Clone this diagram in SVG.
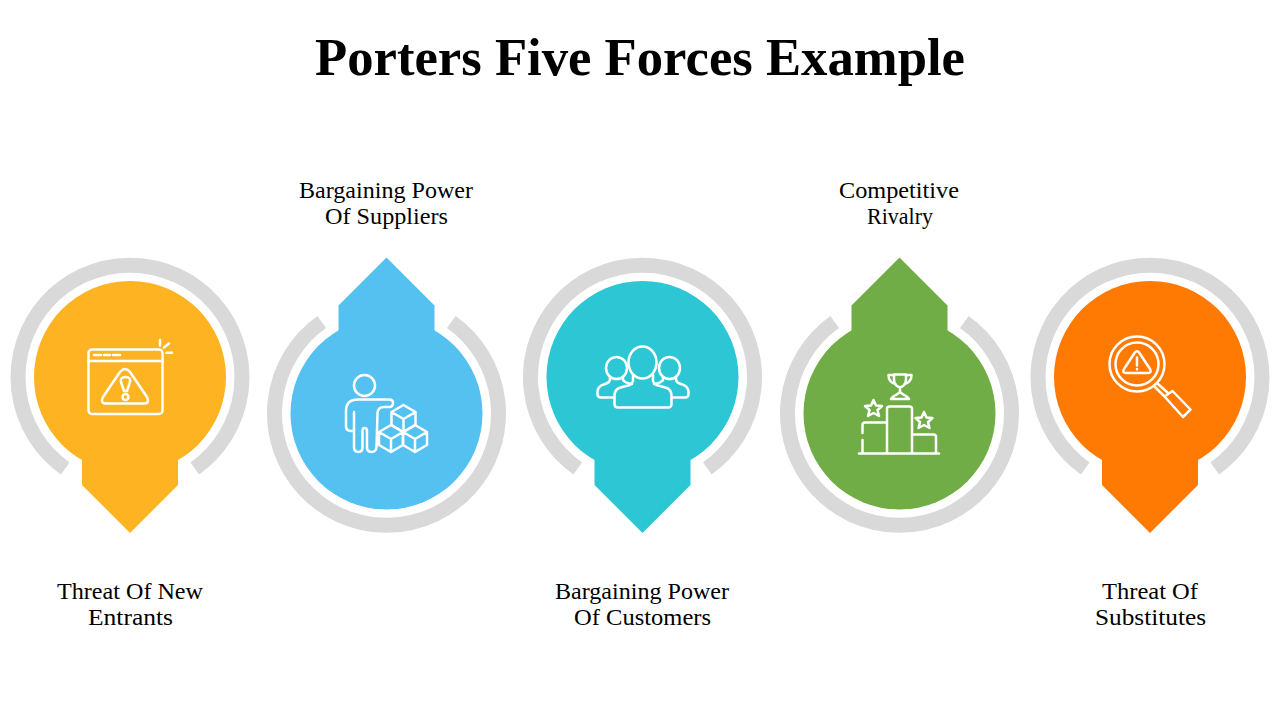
<svg xmlns="http://www.w3.org/2000/svg" xmlns:xlink="http://www.w3.org/1999/xlink" width="1280" height="720" viewBox="0 0 1280 720">
<style>
.title{font-family:"Liberation Serif",serif;font-weight:700;font-size:52px;fill:#000;text-anchor:middle}
.lbl{font-family:"Liberation Serif",serif;font-size:23px;fill:#000;text-anchor:middle}
.ring{fill:none;stroke:#d9d9d9;stroke-width:15}
.ic{fill:none;stroke:#fff;stroke-width:2.5;stroke-linecap:round;stroke-linejoin:round}
</style>
<defs>
<g id="pin"><circle r="96"/><polygon points="-48,60 48,60 48,108 0,156 -48,108"/></g>
<path id="arc" class="ring" d="M-64.800,91.500 A112,112 0 1 1 64.800,91.500"/>
<g id="cube"><path d="M0,0 L12,7 V20 L0,27 L-12,20 V7 Z M-12,7 L0,14 L12,7 M0,14 V27"/></g>
</defs>
<rect width="1280" height="720" fill="#fff"/>
<text class="title" x="640" y="75" textLength="650" lengthAdjust="spacingAndGlyphs">Porters Five Forces Example</text>
<g id="node-1">
<use xlink:href="#arc" href="#arc" transform="translate(130,377)"/>
<use xlink:href="#pin" href="#pin" transform="translate(130,377)" fill="#fdb322"/>
<g class="ic">
<rect x="88.500" y="349.500" width="74" height="64.500" rx="3.500"/>
<path d="M88.500,361 H162.500 M94,355 H101 M104,355 H110 M113,355 H120"/>
<path d="M120,372 Q125,366 130,372 L147,397 Q150,403.500 144,403.500 H106 Q100,403.500 103,397 Z"/>
<path d="M125.500,377 Q131,377 130,382 L127,391 H124 L121,382 Q120,377 125.500,377 Z"/>
<circle cx="125.500" cy="397" r="3"/>
<path d="M160,340 V345.500 M164,347.500 L169,343.500 M166.500,352.700 H172"/>
</g>
<text class="lbl" x="130" y="599" textLength="146" lengthAdjust="spacingAndGlyphs">Threat Of New</text>
<text class="lbl" x="130.500" y="625" textLength="85" lengthAdjust="spacingAndGlyphs">Entrants</text>
</g>
<g id="node-2">
<use xlink:href="#arc" href="#arc" transform="translate(386.500,413.500) scale(1,-1)"/>
<use xlink:href="#pin" href="#pin" transform="translate(386.500,413.500) scale(1,-1)" fill="#55c1f1"/>
<g class="ic">
<circle cx="364.500" cy="385.500" r="10.500"/>
<path d="M354,412 V447 Q354,452 358.500,452 Q362.500,452 362.500,447 V431 Q362.500,428 364.500,428 Q367,428 367,431 V447 Q367,452 371.500,452 Q376,452 376.500,447 L377.500,413 Q378,407 384,407 H389 Q393,407 393,403 Q393,399.500 389,399.500 H358 Q346,399.500 346,411 V426 Q346,431 351,431 H354"/>
<use xlink:href="#cube" href="#cube" x="403.500" y="405"/>
<use xlink:href="#cube" href="#cube" x="391" y="425"/>
<use xlink:href="#cube" href="#cube" x="415" y="425"/>
</g>
<text class="lbl" x="386" y="198" textLength="174" lengthAdjust="spacingAndGlyphs">Bargaining Power</text>
<text class="lbl" x="386.500" y="224" textLength="123" lengthAdjust="spacingAndGlyphs">Of Suppliers</text>
</g>
<g id="node-3">
<use xlink:href="#arc" href="#arc" transform="translate(642.500,377)"/>
<use xlink:href="#pin" href="#pin" transform="translate(642.500,377)" fill="#2cc6d4"/>
<g class="ic">
<ellipse cx="642.500" cy="362.500" rx="14" ry="16"/>
<path d="M633,375 V381 Q632,385 626,386 L619,388 Q614.500,390 614.500,396 V404 Q614.500,407.500 618,407.500 H668 Q671.500,407.500 671.500,404 V396 Q671.500,390 667,388 L660,386 Q654,385 653,381 V375"/>
<ellipse cx="616.500" cy="368" rx="10.500" ry="11"/>
<path d="M610,377 V380 Q609,383 605,384 Q597.500,386 597.500,392 V394 Q597.500,397.500 601,397.500 H614.500 M623,377 V380 Q625,383 632,384"/>
<ellipse cx="669.500" cy="368" rx="10.500" ry="11"/>
<path d="M676,377 V380 Q677,383 681,384 Q688.500,386 688.500,392 V394 Q688.500,397.500 685,397.500 H671.500 M663,377 V380 Q661,383 654,384"/>
</g>
<text class="lbl" x="642" y="599" textLength="174" lengthAdjust="spacingAndGlyphs">Bargaining Power</text>
<text class="lbl" x="642.500" y="625" textLength="137" lengthAdjust="spacingAndGlyphs">Of Customers</text>
</g>
<g id="node-4">
<use xlink:href="#arc" href="#arc" transform="translate(899.500,413.500) scale(1,-1)"/>
<use xlink:href="#pin" href="#pin" transform="translate(899.500,413.500) scale(1,-1)" fill="#70ad47"/>
<g class="ic">
<path d="M859,453.500 H939 M862.500,453.500 V440 M862.500,433 V425 Q862.500,422.500 865,422.500 H887 M887,453.500 V409 Q887,406.500 889.500,406.500 H909.500 Q912,406.500 912,409 V453.500 M912,434.500 H933.500 Q936,434.500 936,437 V453.500"/>
<path d="M894,374.500 H906 V379 Q906,386 900,387.500 Q894,386 894,379 Z M894,375 H888.500 Q888.500,382 895.500,384 M906,375 H911.500 Q911.500,382 904.500,384 M900,387.500 V391 Q900,393 894,396 L891,399 H909 L906,396 Q900,393 900,391"/>
<path d="M873.500,400 L876,405.500 L882,406 L877.500,410 L879,416 L873.500,413 L868,416 L869.500,410 L865,406 L871,405.500 Z"/>
<path d="M924,412 L926.500,417.500 L932.500,418 L928,422 L929.500,428 L924,425 L918.500,428 L920,422 L915.500,418 L921.500,417.500 Z"/>
</g>
<text class="lbl" x="899" y="198" textLength="120" lengthAdjust="spacingAndGlyphs">Competitive</text>
<text class="lbl" x="900" y="224" textLength="66" lengthAdjust="spacingAndGlyphs">Rivalry</text>
</g>
<g id="node-5">
<use xlink:href="#arc" href="#arc" transform="translate(1150,377)"/>
<use xlink:href="#pin" href="#pin" transform="translate(1150,377)" fill="#ff7a03"/>
<g class="ic">
<circle cx="1137" cy="364" r="27.500"/>
<circle cx="1137" cy="364" r="21.500"/>
<path d="M1134.500,353 Q1137,349.500 1139.500,353 L1150,369 Q1152,373 1148,373 H1126 Q1122,373 1124,369 Z"/>
<path d="M1137,357.500 V365.500 M1137,369 V369.300"/>
<path d="M1158,384 L1168,393 M1155,387 L1164.500,396.500 M1164.500,396.500 L1172.500,391 L1190.500,409.500 L1183,417 Z"/>
</g>
<text class="lbl" x="1150" y="599" textLength="96" lengthAdjust="spacingAndGlyphs">Threat Of</text>
<text class="lbl" x="1150.500" y="625" textLength="111" lengthAdjust="spacingAndGlyphs">Substitutes</text>
</g>
</svg>
